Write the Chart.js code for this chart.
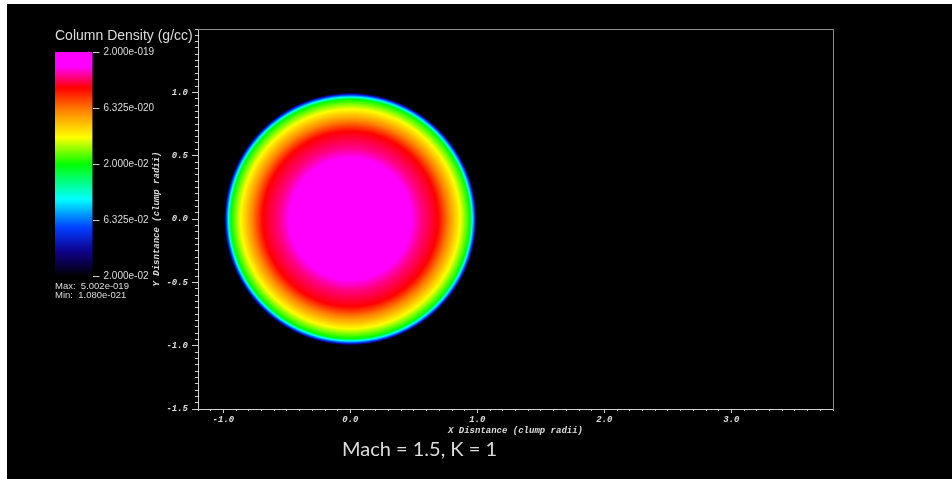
<!DOCTYPE html>
<html>
<head>
<meta charset="utf-8">
<title>Column Density — Mach = 1.5, K = 1</title>
<script src="https://cdn.jsdelivr.net/npm/chart.js@4.4.1/dist/chart.umd.min.js"></script>
<style>
  html, body { margin: 0; padding: 0; background: #fff; }
  #frame { position: absolute; left: 7px; top: 4px; width: 945px; height: 475px; background: #000; overflow: hidden; }
  #frame canvas { position: absolute; left: 0; top: 0; }
  #bar { z-index: 1; }
  #map { z-index: 2; }
  #caption {
    position: absolute; z-index: 3; left: 335px; top: 434px;
    font-family: "Lato", sans-serif; font-size: 20px; line-height: 20px;
    color: #dcdcdc; white-space: nowrap;
  }
</style>
</head>
<body>
<div id="frame">
  <canvas id="bar" width="260" height="300"></canvas>
  <canvas id="map" width="945" height="475"></canvas>
  <div id="caption">Mach = 1.5, K = 1</div>
</div>
<script>
// Radial column-density profile of the clump (radius in clump radii, density in g/cc)
const profileRadius  = [0, 0.25, 0.40, 0.48, 0.56, 0.69, 0.77, 0.864, 0.942, 0.96, 0.976, 0.986, 0.995];
const profileDensity = [5.002e-19, 3.6e-19, 2.3e-19, 1.5e-19, 1.2e-19, 9.6e-20, 6.0e-20, 3.5e-20, 2.0e-20, 9.8e-21, 5.4e-21, 3.3e-21, 1.080e-21];
const clumpCenter = [0, 0];

// Colour bar range and its labelled values
const cbMin = 2.0e-21;
const cbMax = 2.0e-19;
const cbTicks = [2.0e-21, 6.325e-21, 2.0e-20, 6.325e-20, 2.0e-19];

// Axis ranges and ticks
const xRange = [-1.2, 3.8];
const yRange = [-1.5, 1.5];
const xMajorTicks = [-1.0, 0.0, 1.0, 2.0, 3.0];
const yMajorTicks = [-1.5, -1.0, -0.5, 0.0, 0.5, 1.0];
const xMinorStep = 0.1;
const yMinorStep = 0.05;

// Rainbow colour table (position along the bar, RGB)
const cmapPos    = [0.00, 0.11, 0.215, 0.345, 0.50, 0.62, 0.74, 0.84, 0.935, 1.00];
const cmapColors = [[0,0,0],[15,0,135],[0,60,255],[0,255,255],[0,255,0],[255,255,0],[255,130,0],[255,0,0],[255,0,255],[255,0,255]];

const TEXT = '#dcdcdc';
const AXIS = '#cfcfcf';
const SCALE_FONT = { family: 'Liberation Mono', size: 9, weight: 'bold', style: 'italic', lineHeight: 1.2 };

function rgb(c) { return `rgb(${Math.round(c[0])},${Math.round(c[1])},${Math.round(c[2])})`; }

function cmap(t) {
  t = Math.min(1, Math.max(0, t));
  for (let i = 1; i < cmapPos.length; i++) {
    if (t <= cmapPos[i]) {
      const f = (t - cmapPos[i - 1]) / (cmapPos[i] - cmapPos[i - 1]);
      const a = cmapColors[i - 1], b = cmapColors[i];
      return rgb([a[0] + (b[0] - a[0]) * f, a[1] + (b[1] - a[1]) * f, a[2] + (b[2] - a[2]) * f]);
    }
  }
  return rgb(cmapColors[cmapColors.length - 1]);
}

function densityToT(d) {
  return (Math.log10(d) - Math.log10(cbMin)) / (Math.log10(cbMax) - Math.log10(cbMin));
}

// 5.002e-19 -> "5.002e-019"
function sci(v) {
  const parts = v.toExponential(3).split('e');
  const n = parseInt(parts[1], 10);
  return parts[0] + 'e' + (n < 0 ? '-' : '+') + String(Math.abs(n)).padStart(3, '0');
}

function tickList(values) { return values.map(v => ({ value: v })); }

function minorTicks(range, step) {
  const out = [];
  const n = Math.round((range[1] - range[0]) / step);
  for (let i = 0; i <= n; i++) out.push({ value: +(range[0] + i * step).toFixed(4) });
  return out;
}

/* ---------- colour bar ---------- */
function barGradient(chart) {
  const s = chart.scales.y;
  if (!chart.chartArea || !s) return 'rgba(0,0,0,0)';
  const g = chart.ctx.createLinearGradient(0, s.getPixelForValue(cbMin), 0, s.getPixelForValue(cbMax));
  cmapPos.forEach((p, i) => g.addColorStop(p, rgb(cmapColors[i])));
  return g;
}

new Chart(document.getElementById('bar'), {
  type: 'bar',
  data: {
    labels: [''],
    datasets: [{
      data: [[cbMin, cbMax]],
      backgroundColor: ctx => barGradient(ctx.chart),
      borderWidth: 0,
      barPercentage: 1,
      categoryPercentage: 1
    }]
  },
  options: {
    responsive: false,
    animation: false,
    events: [],
    layout: { padding: { left: 48, right: 14.5, top: 18, bottom: 3.75 } },
    plugins: {
      legend: { display: false },
      tooltip: { enabled: false },
      title: {
        display: true, text: 'Column Density (g/cc)', align: 'start', color: TEXT,
        font: { family: 'Liberation Sans', size: 14, weight: 'normal', lineHeight: 1.2 },
        padding: { top: 6, bottom: 7.2 }
      },
      subtitle: {
        display: true, position: 'bottom', align: 'start', color: TEXT,
        text: ['Max:  ' + sci(Math.max(...profileDensity)), 'Min:  ' + sci(Math.min(...profileDensity))],
        font: { family: 'Liberation Sans', size: 9.5, weight: 'normal', lineHeight: 1 },
        padding: { top: 4.75, bottom: 0 }
      }
    },
    scales: {
      x: { display: false },
      y: {
        type: 'logarithmic', position: 'right', min: cbMin, max: cbMax,
        afterBuildTicks: s => { s.ticks = tickList(cbTicks); },
        afterFit: s => { s.width = 160; },
        ticks: {
          autoSkip: false, color: TEXT, padding: 4,
          font: { family: 'Liberation Sans', size: 10 },
          callback: (v, i) => sci(cbTicks[i])
        },
        grid: { drawOnChartArea: false, drawTicks: true, tickLength: 7, tickColor: AXIS, tickWidth: 1 },
        border: { display: false }
      }
    }
  }
});

/* ---------- projected clump ---------- */
const rOuter = profileRadius[profileRadius.length - 1];

function clumpPixelRadius(chart) {
  const xs = chart.scales.x;
  if (!xs) return 0;
  return Math.abs(xs.getPixelForValue(clumpCenter[0] + rOuter) - xs.getPixelForValue(clumpCenter[0]));
}

function clumpGradient(chart) {
  const xs = chart.scales.x, ys = chart.scales.y;
  if (!chart.chartArea || !xs || !ys) return 'rgba(0,0,0,0)';
  const cx = xs.getPixelForValue(clumpCenter[0]);
  const cy = ys.getPixelForValue(clumpCenter[1]);
  const g = chart.ctx.createRadialGradient(cx, cy, 0, cx, cy, clumpPixelRadius(chart));
  profileRadius.forEach((r, i) => g.addColorStop(r / rOuter, cmap(densityToT(profileDensity[i]))));
  return g;
}

// Black box behind the vertical axis title
const axisTitleBackdrop = {
  id: 'axisTitleBackdrop',
  beforeDraw(chart) {
    const s = chart.scales.y;
    const t = s.options.title;
    const ctx = chart.ctx;
    ctx.save();
    ctx.font = 'italic bold 9px "Liberation Mono"';
    const w = ctx.measureText(t.text).width;
    const cx = s.left + 9 * 1.2 / 2;
    const cy = (chart.chartArea.top + chart.chartArea.bottom) / 2;
    ctx.fillStyle = '#000';
    ctx.fillRect(cx - 8, cy - w / 2 - 3, 15, w + 6);
    ctx.restore();
  }
};

function frameAxis(position) {
  const horizontal = position === 'top';
  return {
    type: 'linear', position: position, min: 0, max: 1,
    ticks: { display: false },
    grid: { display: false, drawTicks: false },
    border: { display: true, color: '#8c8c8c', width: 1 },
    afterFit: s => { if (horizontal) s.height = 0; else s.width = 0; }
  };
}

new Chart(document.getElementById('map'), {
  type: 'scatter',
  data: {
    datasets: [{
      data: [{ x: clumpCenter[0], y: clumpCenter[1] }],
      pointStyle: 'circle',
      pointRadius: ctx => clumpPixelRadius(ctx.chart),
      pointHoverRadius: ctx => clumpPixelRadius(ctx.chart),
      pointBorderWidth: 0,
      borderWidth: 0,
      backgroundColor: ctx => clumpGradient(ctx.chart)
    }]
  },
  options: {
    responsive: false,
    animation: false,
    events: [],
    layout: { padding: { left: 144, top: 25, right: 119, bottom: 42 } },
    plugins: {
      legend: { display: false },
      tooltip: { enabled: false },
      title: { display: false }
    },
    scales: {
      x: {
        type: 'linear', position: 'bottom', weight: 1, min: xRange[0], max: xRange[1],
        afterBuildTicks: s => { s.ticks = tickList(xMajorTicks); },
        afterFit: s => { s.height = 28; },
        ticks: { autoSkip: false, maxRotation: 0, color: TEXT, font: SCALE_FONT, padding: 1,
                 callback: v => Number(v).toFixed(1) },
        grid: { drawOnChartArea: false, drawTicks: true, tickLength: 4, tickColor: AXIS, tickWidth: 1 },
        border: { display: true, color: AXIS, width: 1 },
        title: { display: true, text: 'X Disntance (clump radii)', color: TEXT, font: SCALE_FONT,
                 padding: { top: 0, bottom: 1 } }
      },
      xMinor: {
        type: 'linear', position: 'bottom', weight: 0, min: xRange[0], max: xRange[1],
        afterBuildTicks: s => { s.ticks = minorTicks(xRange, xMinorStep); },
        afterFit: s => { s.height = 0; },
        ticks: { display: false },
        grid: { drawOnChartArea: false, drawTicks: true, tickLength: 2, tickColor: AXIS, tickWidth: 1 },
        border: { display: false }
      },
      y: {
        type: 'linear', position: 'left', weight: 1, min: yRange[0], max: yRange[1],
        afterBuildTicks: s => { s.ticks = tickList(yMajorTicks); },
        afterFit: s => { s.width = 47; },
        ticks: { autoSkip: false, color: TEXT, font: SCALE_FONT, padding: 4,
                 callback: v => Number(v).toFixed(1) },
        grid: { drawOnChartArea: false, drawTicks: true, tickLength: 6, tickColor: AXIS, tickWidth: 1 },
        border: { display: true, color: AXIS, width: 1 },
        title: { display: true, text: 'Y Disntance (clump radii)', color: TEXT, font: SCALE_FONT,
                 padding: { top: 0, bottom: 0 } }
      },
      yMinor: {
        type: 'linear', position: 'left', weight: 0, min: yRange[0], max: yRange[1],
        afterBuildTicks: s => { s.ticks = minorTicks(yRange, yMinorStep); },
        afterFit: s => { s.width = 0; },
        ticks: { display: false },
        grid: { drawOnChartArea: false, drawTicks: true, tickLength: 3, tickColor: AXIS, tickWidth: 1 },
        border: { display: false }
      },
      xFrame: frameAxis('top'),
      yFrame: frameAxis('right')
    }
  },
  plugins: [axisTitleBackdrop]
});
</script>
</body>
</html>
